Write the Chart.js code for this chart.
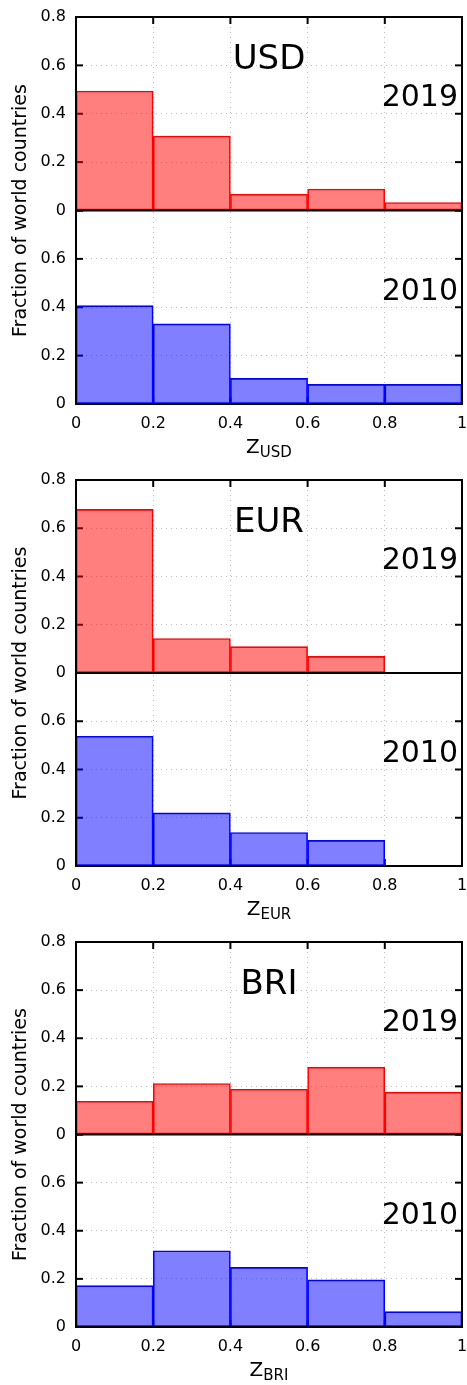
<!DOCTYPE html>
<html><head><meta charset="utf-8">
<script src="https://cdn.jsdelivr.net/npm/chart.js@4/dist/chart.umd.min.js"></script>
<style>
html,body{margin:0;padding:0;background:#fff;overflow:hidden;width:467px;height:1385px;}
canvas{position:absolute;left:0;}
</style></head><body>
<canvas id="c0" width="467" height="462" style="top:0px"></canvas>
<canvas id="c1" width="467" height="462" style="top:462px"></canvas>
<canvas id="c2" width="467" height="461" style="top:924px"></canvas>
<script>
// ---- data ----
const binCenters = [0.1, 0.3, 0.5, 0.7, 0.9];
const xTicks = [0, 0.2, 0.4, 0.6, 0.8, 1];
const yTicks = [0, 0.2, 0.4, 0.6, 0.8];
const currencies = ['USD', 'EUR', 'BRI'];
const yearLabels = ['2019', '2010'];
const usd2019 = [0.494, 0.308, 0.067, 0.089, 0.033];
const usd2010 = [0.407, 0.331, 0.106, 0.081, 0.081];
const eur2019 = [0.678, 0.143, 0.109, 0.069, 0.0];
const eur2010 = [0.538, 0.220, 0.139, 0.106, 0.0];
const bri2019 = [0.138, 0.212, 0.188, 0.280, 0.176];
const bri2010 = [0.172, 0.317, 0.248, 0.196, 0.064];
const yTitle = 'Fraction of world countries';

const series2019 = [usd2019, eur2019, bri2019];
const series2010 = [usd2010, eur2010, bri2010];

const FONT = "'DejaVu Sans', sans-serif";
const fmt = v => { const r = Math.round(v * 10) / 10; return r === 0 ? '0' : (r === 1 ? '1' : r.toFixed(1)); };

function makePanel(idx, padTop) {
  const cur = currencies[idx];
  const toPts = arr => arr.map((v, i) => ({ x: binCenters[i], y: v }));
  const decor = {
    id: 'decor' + idx,
    beforeDatasetsDraw(chart) {
      const { ctx, chartArea: a, scales } = chart;
      ctx.save();
      ctx.strokeStyle = '#000';
      ctx.lineWidth = 2;
      const ln = (x1, y1, x2, y2) => { ctx.beginPath(); ctx.moveTo(x1, y1); ctx.lineTo(x2, y2); ctx.stroke(); };
      xTicks.forEach(v => {
        const px = scales.x.getPixelForValue(v);
        ln(px, a.top, px, a.top + 7);
        ln(px, a.bottom, px, a.bottom - 7);
      });
      ['y19', 'y10'].forEach(id => yTicks.forEach(v => {
        const py = scales[id].getPixelForValue(v);
        ln(a.left, py, a.left + 7, py);
        ln(a.right, py, a.right - 7, py);
      }));
      ctx.restore();
    },
    afterDatasetsDraw(chart) {
      const { ctx, chartArea: a, scales } = chart;
      ctx.save();
      ctx.strokeStyle = '#000';
      ctx.lineWidth = 2;
      ctx.strokeRect(a.left, a.top, a.right - a.left, a.bottom - a.top);
      const mid = scales.y19.getPixelForValue(0);
      ctx.beginPath(); ctx.moveTo(a.left, mid); ctx.lineTo(a.right, mid); ctx.stroke();
      // texts
      ctx.fillStyle = '#000';
      ctx.textBaseline = 'alphabetic';
      ctx.font = '34px ' + FONT;
      ctx.textAlign = 'center';
      ctx.fillText(cur, scales.x.getPixelForValue(0.5), scales.y19.getPixelForValue(0.585));
      ctx.font = '30px ' + FONT;
      ctx.textAlign = 'right';
      ctx.fillText(yearLabels[0], a.right - 4, scales.y19.getPixelForValue(0.43));
      ctx.fillText(yearLabels[1], a.right - 4, scales.y10.getPixelForValue(0.43));
      // y title
      ctx.save();
      ctx.font = '19px ' + FONT;
      ctx.textAlign = 'center';
      ctx.textBaseline = 'middle';
      ctx.translate(21, (a.top + a.bottom) / 2);
      ctx.rotate(-Math.PI / 2);
      ctx.fillText(yTitle, 0, 0);
      ctx.restore();
      // x title with subscript
      ctx.textAlign = 'left';
      ctx.font = '20px ' + FONT;
      const wZ = ctx.measureText('Z').width;
      ctx.font = '15px ' + FONT;
      const wS = ctx.measureText(cur).width;
      const cx = scales.x.getPixelForValue(0.5);
      const x0 = cx - (wZ + wS) / 2;
      const base = a.bottom + 49;
      ctx.font = '20px ' + FONT;
      ctx.fillText('Z', x0, base);
      ctx.font = '15px ' + FONT;
      ctx.fillText(cur, x0 + wZ, base + 4);
      ctx.restore();
    }
  };

  return new Chart(document.getElementById('c' + idx), {
    type: 'bar',
    data: {
      datasets: [
        {
          label: yearLabels[0], yAxisID: 'y19', data: toPts(series2019[idx]),
          backgroundColor: 'rgba(255,0,0,0.5)', borderColor: 'rgb(255,0,0)', borderWidth: 1, borderSkipped: false,
          barPercentage: 1, categoryPercentage: 1, grouped: false
        },
        {
          label: yearLabels[1], yAxisID: 'y10', data: toPts(series2010[idx]),
          backgroundColor: 'rgba(0,0,255,0.5)', borderColor: 'rgb(0,0,255)', borderWidth: 1, borderSkipped: false,
          barPercentage: 1, categoryPercentage: 1, grouped: false
        }
      ]
    },
    options: {
      responsive: false, animation: false, devicePixelRatio: 1,
      layout: { padding: { top: padTop, right: 5, left: 0, bottom: 0 } },
      plugins: { legend: { display: false }, tooltip: { enabled: false } },
      scales: {
        x: {
          type: 'linear', min: 0, max: 1, offset: false,
          afterFit: s => { s.height = 58; s.paddingLeft = 0; s.paddingRight = 0; },
          afterBuildTicks: s => { s.ticks = xTicks.map(v => ({ value: v })); },
          ticks: { callback: v => fmt(v), font: { family: FONT, size: 16 }, color: '#000', padding: 10, maxRotation: 0, autoSkip: false },
          grid: { offset: false, drawTicks: false, color: '#bdbdbd', lineWidth: 1 },
          border: { display: false, dash: [1, 4] }
        },
        y10: {
          type: 'linear', position: 'left', stack: 'p', stackWeight: 1, min: 0, max: 0.8,
          afterFit: s => { s.width = 76; s.paddingTop = 0; s.paddingBottom = 0; },
          afterBuildTicks: s => { s.ticks = yTicks.map(v => ({ value: v })); },
          ticks: { callback: v => (v > 0.75 ? '' : fmt(v)), font: { family: FONT, size: 16 }, color: '#000', padding: 10 },
          grid: { drawTicks: false, color: '#bdbdbd', lineWidth: 1 },
          border: { display: false, dash: [1, 4] }
        },
        y19: {
          type: 'linear', position: 'left', stack: 'p', stackWeight: 1, min: 0, max: 0.8,
          afterFit: s => { s.width = 76; s.paddingTop = 0; s.paddingBottom = 0; },
          afterBuildTicks: s => { s.ticks = yTicks.map(v => ({ value: v })); },
          ticks: { callback: v => fmt(v), font: { family: FONT, size: 16 }, color: '#000', padding: 10 },
          grid: { drawTicks: false, color: '#bdbdbd', lineWidth: 1 },
          border: { display: false, dash: [1, 4] }
        }
      }
    },
    plugins: [decor]
  });
}

makePanel(0, 17);
makePanel(1, 18);
makePanel(2, 18);
</script>
</body></html>
